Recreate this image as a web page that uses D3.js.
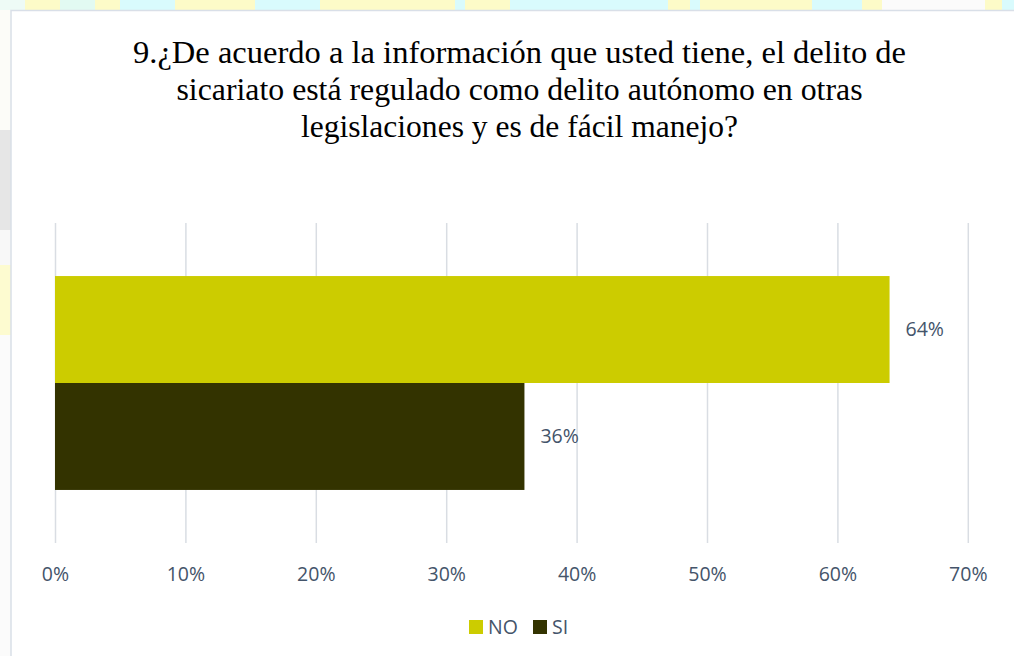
<!DOCTYPE html>
<html>
<head>
<meta charset="utf-8">
<script src="https://cdn.jsdelivr.net/npm/d3@7"></script>
<style>
  html, body { margin: 0; padding: 0; background: #ffffff; }
  svg { display: block; }
</style>
</head>
<body>
<svg id="chart" width="1014" height="656"></svg>
<script>
// Survey answers for question 9
const categories = ["Respuesta"];
const seriesNames = ["NO", "SI"];
const seriesValues = [64, 36];
const tickValues = [0, 10, 20, 30, 40, 50, 60, 70];
const tickLabels = ["0%", "10%", "20%", "30%", "40%", "50%", "60%", "70%"];
const titleLines = [
  "9.¿De acuerdo a la información que usted tiene, el delito de",
  "sicariato está regulado como delito autónomo en otras",
  "legislaciones y es de fácil manejo?"
];
const seriesColors = ["#cccc00", "#333300"];

// Decorative strip pieces behind the chart frame (background pattern of the page)
const topStrip = [
  [0, 25, "#eefbf6"], [25, 60, "#fdfbc8"], [60, 95, "#e2faf2"], [95, 120, "#fdfbc8"],
  [120, 175, "#d9fbfd"], [175, 255, "#fdfbc8"], [255, 320, "#d9fbfd"], [320, 455, "#fdfbc8"],
  [455, 465, "#d9fbfd"], [465, 510, "#fdfbc8"], [510, 668, "#d9fbfd"], [668, 690, "#fdfbc8"],
  [690, 700, "#d9fbfd"], [700, 812, "#fdfbc8"], [812, 862, "#d9fbfd"], [862, 882, "#fdfbc8"],
  [882, 985, "#fbfbfb"], [985, 1002, "#fdfbc8"], [1002, 1014, "#d9fbfd"]
];
const leftStrip = [
  [10, 130, "#fcfcf8"], [130, 230, "#e6e6e6"], [230, 265, "#f8f8f8"], [265, 335, "#fdfbd0"],
  [335, 656, "#fbfbfb"]
];

const svg = d3.select("#chart");

// background strips
svg.selectAll("rect.top-strip").data(topStrip).join("rect")
  .attr("class", "top-strip")
  .attr("x", d => d[0]).attr("y", 0)
  .attr("width", d => d[1] - d[0]).attr("height", 11)
  .attr("fill", d => d[2]);
svg.selectAll("rect.left-strip").data(leftStrip).join("rect")
  .attr("class", "left-strip")
  .attr("x", 0).attr("y", d => d[0])
  .attr("width", 11).attr("height", d => d[1] - d[0])
  .attr("fill", d => d[2]);

// chart frame
svg.append("rect")
  .attr("x", 11).attr("y", 10.5)
  .attr("width", 1014).attr("height", 660)
  .attr("fill", "#ffffff")
  .attr("stroke", "#d9dfe8").attr("stroke-width", 1.5);

// title
const title = svg.append("text")
  .attr("text-anchor", "middle")
  .attr("font-family", "'Liberation Serif', 'Times New Roman', serif")
  .attr("font-size", 32)
  .attr("fill", "#000000");
const titleWidths = [773, 686, 437];
titleLines.forEach((line, i) => {
  title.append("tspan")
    .attr("x", 519.5)
    .attr("y", 63 + i * 37)
    .attr("textLength", titleWidths[i])
    .attr("lengthAdjust", "spacingAndGlyphs")
    .text(line);
});

// plot area
const plot = { left: 55, right: 967.8, top: 223, bottom: 543 };

const x = d3.scaleLinear().domain([0, 70]).range([plot.left, plot.right]);
const y0 = d3.scaleBand().domain(categories).range([plot.top, plot.bottom]).paddingInner(0).paddingOuter(0.248);
const y1 = d3.scaleBand().domain(seriesNames).range([0, y0.bandwidth()]).padding(0);

// gridlines
const grid = svg.append("g")
  .attr("transform", `translate(0,${plot.bottom})`)
  .call(d3.axisBottom(x).tickValues(tickValues).tickSize(-(plot.bottom - plot.top)).tickFormat(""));
grid.select(".domain").remove();
grid.selectAll(".tick line").attr("stroke", "#d9dde3").attr("stroke-width", 1.5);

// tick labels
const axis = svg.append("g")
  .attr("transform", `translate(0,${plot.bottom})`)
  .call(d3.axisBottom(x).tickValues(tickValues).tickSize(0).tickPadding(24)
    .tickFormat((d, i) => tickLabels[i]));
axis.select(".domain").remove();
axis.selectAll(".tick text")
  .attr("font-family", "'Open Sans', sans-serif")
  .attr("font-size", 19.5)
  .attr("fill", "#44546a");

// bars
const rows = seriesNames.map((s, i) => ({ series: s, value: seriesValues[i], color: seriesColors[i] }));
const g = svg.append("g").attr("transform", `translate(0,${y0(categories[0])})`);
g.selectAll("rect.bar").data(rows).join("rect")
  .attr("class", "bar")
  .attr("x", x(0))
  .attr("y", d => y1(d.series))
  .attr("width", d => x(d.value) - x(0))
  .attr("height", y1.bandwidth())
  .attr("fill", d => d.color);

// value labels
g.selectAll("text.val").data(rows).join("text")
  .attr("class", "val")
  .attr("x", d => x(d.value) + 16)
  .attr("y", d => y1(d.series) + y1.bandwidth() / 2)
  .attr("dy", "0.35em")
  .attr("font-family", "'Open Sans', sans-serif")
  .attr("font-size", 19.5)
  .attr("fill", "#44546a")
  .text(d => d.value + "%");

// legend
const legend = svg.append("g");
const legendItems = [
  { name: seriesNames[0], color: seriesColors[0], x: 469 },
  { name: seriesNames[1], color: seriesColors[1], x: 533 }
];
legend.selectAll("rect").data(legendItems).join("rect")
  .attr("x", d => d.x).attr("y", 620)
  .attr("width", 14).attr("height", 14)
  .attr("fill", d => d.color);
legend.selectAll("text").data(legendItems).join("text")
  .attr("x", d => d.x + 19).attr("y", 627)
  .attr("dy", "0.35em")
  .attr("font-family", "'Open Sans', sans-serif")
  .attr("font-size", 19.5)
  .attr("fill", "#44546a")
  .text(d => d.name);
</script>
</body>
</html>
